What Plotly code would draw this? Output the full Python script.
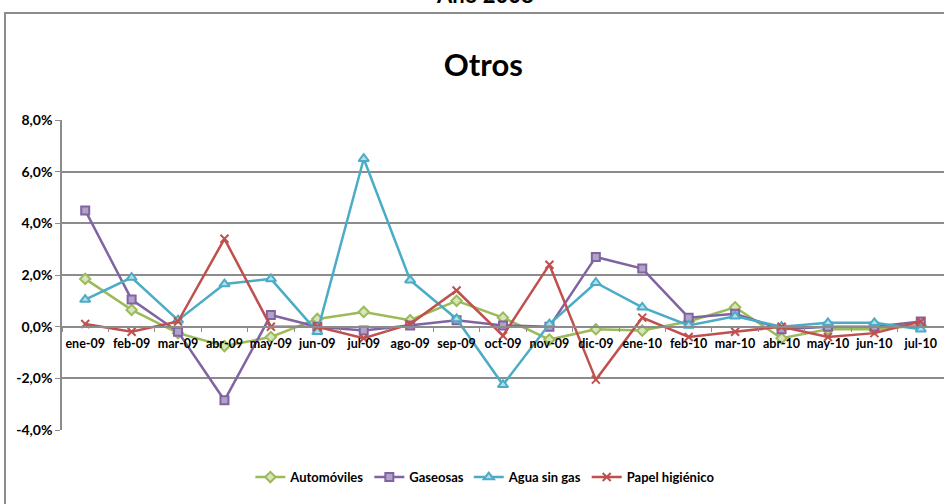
import plotly.graph_objects as go

# months on the x axis
months = ['ene-09', 'feb-09', 'mar-09', 'abr-09', 'may-09', 'jun-09', 'jul-09',
          'ago-09', 'sep-09', 'oct-09', 'nov-09', 'dic-09', 'ene-10', 'feb-10',
          'mar-10', 'abr-10', 'may-10', 'jun-10', 'jul-10']

# monthly variation, in percent
automoviles = [1.85, 0.65, -0.25, -0.75, -0.4, 0.3, 0.57, 0.25, 1.0, 0.35, -0.5,
               -0.1, -0.15, 0.2, 0.75, -0.45, -0.1, -0.1, 0.05]
gaseosas = [4.5, 1.05, -0.2, -2.85, 0.45, 0.0, -0.15, 0.05, 0.25, 0.05, 0.0,
            2.7, 2.25, 0.35, 0.5, -0.1, 0.0, 0.0, 0.2]
agua_sin_gas = [1.05, 1.9, 0.25, 1.65, 1.85, -0.2, 6.5, 1.8, 0.3, -2.25, 0.1,
                1.7, 0.75, 0.05, 0.4, 0.0, 0.15, 0.15, -0.1]
papel_higienico = [0.1, -0.2, 0.2, 3.4, 0.0, 0.0, -0.45, 0.1, 1.4, -0.35, 2.4,
                   -2.05, 0.35, -0.4, -0.2, 0.0, -0.4, -0.25, 0.2]

y_ticks = [-4, -2, 0, 2, 4, 6, 8]
y_tick_labels = ['-4,0%', '-2,0%', '0,0%', '2,0%', '4,0%', '6,0%', '8,0%']

FONT = 'Lato, Roboto, sans-serif'

series = [
    ('Automóviles', automoviles, '#9BBB59', '#D7E4BD', 'diamond', 8),
    ('Gaseosas', gaseosas, '#8064A2', '#B3A2C7', 'square', 8),
    ('Agua sin gas', agua_sin_gas, '#4BACC6', '#B7DEE8', 'triangle-up', 9),
    ('Papel higiénico', papel_higienico, '#C0504D', '#C0504D', 'x-thin', 8),
]

fig = go.Figure()
for name, vals, color, fill, symbol, size in series:
    fig.add_trace(go.Scatter(
        x=months, y=vals, name=name, mode='lines+markers',
        line=dict(color=color, width=2.5),
        marker=dict(symbol=symbol, size=size, color=fill,
                    line=dict(color=color, width=2)),
    ))

# outer chart frame
fig.add_shape(type='rect', xref='paper', yref='paper',
              x0=-0.0646, x1=1.2, y0=-0.5, y1=1.345,
              line=dict(color='#8C8C8C', width=2), fillcolor='rgba(0,0,0,0)',
              layer='below')

# header of the page above, mostly cut off like in the source
fig.add_annotation(text='Año 2008', xref='paper', yref='paper',
                   x=0.48, y=1.355, yanchor='bottom', showarrow=False,
                   font=dict(family=FONT, size=22, color='black', weight='bold'))

fig.update_layout(
    width=944, height=504,
    margin=dict(l=62, r=0, t=120, b=74),
    paper_bgcolor='white', plot_bgcolor='white',
    title=dict(text='Otros', x=0.512, xanchor='center', y=0.871,
               yanchor='middle',
               font=dict(family=FONT, size=31, color='black', weight='bold')),
    showlegend=True,
    legend=dict(orientation='h', x=0.48, xanchor='center', y=-0.152, yanchor='middle',
                font=dict(family=FONT, size=13, color='black', weight='bold'),
                itemwidth=30, tracegroupgap=0),
    xaxis=dict(
        type='category', anchor='free', position=1/3, range=[-0.5, 18.5],
        showline=True, linecolor='#8C8C8C', linewidth=1.5,
        ticks='outside', tickson='boundaries', ticklen=5, tickcolor='#8C8C8C',
        showgrid=False, zeroline=False, tickangle=0,
        tickfont=dict(family=FONT, size=12.5, color='black', weight='bold'),
        ticklabelstandoff=6,
    ),
    yaxis=dict(
        range=[-4, 8], tickvals=y_ticks, ticktext=y_tick_labels,
        showline=True, linecolor='#8C8C8C', linewidth=1.5,
        ticks='outside', ticklen=5, tickcolor='#8C8C8C',
        showgrid=True, gridcolor='#8C8C8C', gridwidth=1.5,
        zeroline=False,
        tickfont=dict(family=FONT, size=14, color='black', weight='bold'),
    ),
)

fig.write_html('out.html', config={'displayModeBar': False},
               post_script="document.body.style.margin='0';")
